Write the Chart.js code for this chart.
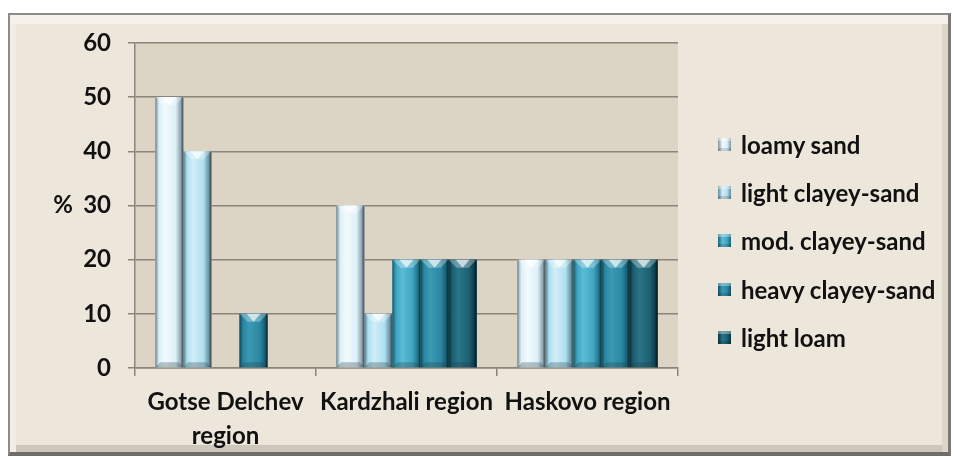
<!DOCTYPE html>
<html>
<head>
<meta charset="utf-8">
<script src="https://cdn.jsdelivr.net/npm/chart.js@4/dist/chart.umd.min.js"></script>
<style>
  html,body{margin:0;padding:0;background:#ffffff;}
  #wrap{position:relative;width:957px;height:459px;overflow:hidden;}
  #frame{position:absolute;left:8px;top:13px;width:938px;height:437px;
    border:2px solid #8e8c88;border-bottom:4px solid #6f6d6a;border-right:3px solid #7c7a77;
    background:#ede6da;
    box-shadow: inset 0 9px 0 #f6f2ea, inset 6px 0 0 #f3eee5, inset -6px 0 0 #dcd5c9, inset 0 -7px 0 #cdc6ba;}
  #c{position:absolute;left:0;top:0;}
  #legend{position:absolute;left:718px;top:130px;font-family:Lato,"Open Sans",sans-serif;font-weight:bold;font-size:24px;line-height:29px;color:#111;}
  .item{height:48.2px;display:flex;align-items:flex-start;white-space:nowrap;}
  .box{width:13px;height:13px;margin-right:10px;margin-top:8px;flex:none;}
</style>
</head>
<body>
<div id="wrap">
  <div id="frame"></div>
  <canvas id="c" width="957" height="459"></canvas>
  <div id="legend"></div>
</div>
<script>
// ---- data ----
const categories = [["Gotse Delchev", "region"], "Kardzhali region", "Haskovo region"];
const seriesNames = ["loamy sand", "light clayey-sand", "mod. clayey-sand", "heavy clayey-sand", "light loam"];
const loamySand = [50, 30, 20];
const lightClayeySand = [40, 10, 20];
const modClayeySand = [0, 20, 20];
const heavyClayeySand = [10, 20, 20];
const lightLoam = [0, 20, 20];
const yTicks = [0, 10, 20, 30, 40, 50, 60];

// ---- styles ----
const FONT = 'Lato, "Open Sans", sans-serif';
const palettes = [
  {edge:'#7f939c', light:'#f2fafd', mid:'#dcf0f8', dark:'#97adb7'},
  {edge:'#63899a', light:'#d2edf7', mid:'#ace0f0', dark:'#739cab'},
  {edge:'#1b6477', light:'#5cbcd6', mid:'#3ea5c2', dark:'#237a90'},
  {edge:'#115062', light:'#3b9ab3', mid:'#2a88a2', dark:'#18647a'},
  {edge:'#0a323c', light:'#2a7488', mid:'#1c6072', dark:'#0f4453'}
];
const seriesValues = [loamySand, lightClayeySand, modClayeySand, heavyClayeySand, lightLoam];

const datasets = seriesNames.map((n, i) => ({
  label: n,
  data: seriesValues[i],
  backgroundColor: palettes[i].mid,
  borderWidth: 0,
  barPercentage: 1.0,
  categoryPercentage: 0.775
}));

const bevelPlugin = {
  id: 'bevel',
  beforeDraw(chart) {
    const {ctx, chartArea:a} = chart;
    ctx.save();
    ctx.fillStyle = '#dcd4c5';
    ctx.fillRect(a.left, a.top, a.right - a.left, a.bottom - a.top);
    ctx.restore();
  },
  afterDatasetsDraw(chart) {
    const ctx = chart.ctx;
    chart.data.datasets.forEach((ds, di) => {
      const meta = chart.getDatasetMeta(di);
      const p = palettes[di];
      meta.data.forEach(el => {
        const h = el.base - el.y;
        if (h <= 0.5) return;
        const x0 = el.x - el.width / 2, x1 = el.x + el.width / 2, y0 = el.y, y1 = el.base;
        const w = x1 - x0;
        ctx.save();
        const g = ctx.createLinearGradient(x0, 0, x1, 0);
        g.addColorStop(0, p.edge);
        g.addColorStop(0.14, p.mid);
        g.addColorStop(0.35, p.light);
        g.addColorStop(0.72, p.mid);
        g.addColorStop(0.88, p.dark);
        g.addColorStop(1, p.edge);
        ctx.fillStyle = g;
        ctx.fillRect(x0, y0, w, h);
        const b = Math.min(8, h / 2);
        ctx.beginPath();
        ctx.moveTo(x0, y0); ctx.lineTo(x1, y0); ctx.lineTo(x1 - b, y0 + b); ctx.lineTo(x0 + b, y0 + b); ctx.closePath();
        ctx.fillStyle = 'rgba(255,255,255,0.3)';
        ctx.fill();
        ctx.beginPath();
        ctx.moveTo(x0 + b * 0.9, y0); ctx.lineTo(x1 - b * 0.9, y0); ctx.lineTo(el.x, y0 + b); ctx.closePath();
        ctx.fillStyle = 'rgba(255,255,255,0.65)';
        ctx.fill();
        const bb = Math.min(5, h / 3);
        ctx.beginPath();
        ctx.moveTo(x0, y1); ctx.lineTo(x1, y1); ctx.lineTo(x1 - bb, y1 - bb); ctx.lineTo(x0 + bb, y1 - bb); ctx.closePath();
        ctx.fillStyle = 'rgba(40,60,70,0.3)';
        ctx.fill();
        ctx.fillStyle = 'rgba(0,0,0,0.35)';
        ctx.fillRect(x1 - 2, y0, 2, h);
        ctx.fillStyle = 'rgba(0,0,0,0.18)';
        ctx.fillRect(x0, y0, 1, h);
        ctx.restore();
      });
    });
  },
  afterDraw(chart) {
    const ctx = chart.ctx;
    const y = chart.scales.y;
    ctx.save();
    ctx.font = 'bold 24px ' + FONT;
    ctx.fillStyle = '#111';
    ctx.textAlign = 'center';
    ctx.textBaseline = 'middle';
    ctx.fillText('%', 63, y.getPixelForValue(30));
    ctx.restore();
  }
};

const chart = new Chart(document.getElementById('c'), {
  type: 'bar',
  data: { labels: categories, datasets },
  options: {
    responsive: false,
    animation: false,
    layout: { padding: { left: 0, right: 279, top: 43, bottom: 0 } },
    plugins: { legend: { display: false }, tooltip: { enabled: false } },
    scales: {
      x: {
        grid: { display: true, drawOnChartArea: false, drawTicks: true, tickLength: 8, color: '#8b8579', lineWidth: 1.5, offset: true },
        border: { color: '#8b8579', width: 1.5 },
        ticks: { color: '#111', autoSkip: false, maxRotation: 0, minRotation: 0, padding: 9,
          font: { family: FONT, weight: 'bold', size: 24, lineHeight: 1.42 } },
        afterFit(s) { s.height = 91; }
      },
      y: {
        min: 0, max: 60,
        afterBuildTicks(s) { s.ticks = yTicks.map(v => ({ value: v })); },
        grid: { color: '#8b8579', lineWidth: 1.5, tickLength: 7 },
        border: { color: '#8b8579', width: 1.5 },
        ticks: { color: '#111', padding: 17, font: { family: FONT, weight: 'bold', size: 24 } },
        afterFit(s) { s.width = 135; }
      }
    }
  },
  plugins: [bevelPlugin]
});

// HTML legend built from the datasets
const leg = document.getElementById('legend');
seriesNames.forEach((n, i) => {
  const p = palettes[i];
  const it = document.createElement('div');
  it.className = 'item';
  const bx = document.createElement('span');
  bx.className = 'box';
  bx.style.background = `linear-gradient(90deg, ${p.edge} 0%, ${p.light} 35%, ${p.mid} 70%, ${p.edge} 100%)`;
  bx.style.boxShadow = 'inset 0 3px 0 rgba(255,255,255,0.35), inset 0 -3px 0 rgba(0,0,0,0.15)';
  const t = document.createElement('span');
  t.textContent = n;
  it.appendChild(bx); it.appendChild(t);
  leg.appendChild(it);
});
</script>
</body>
</html>
